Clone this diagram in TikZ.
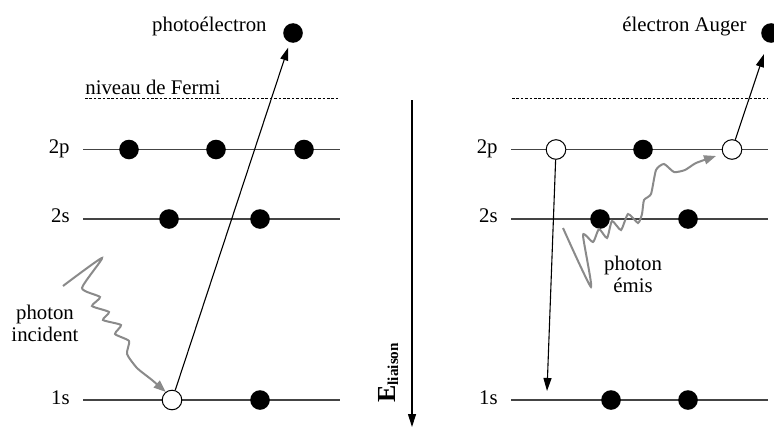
\documentclass[tikz,border=0pt]{standalone}
\usepackage{fontspec}
\setmainfont{Liberation Serif}
\usetikzlibrary{arrows.meta}
\definecolor{augerLine}{HTML}{444444}
\definecolor{augerPhoton}{HTML}{8A8A8A}
\tikzset{
  augerfig/.style={
    x=0.5pt, y=-0.5pt,
    every node/.append style={font=\fontsize{10.4}{11}\selectfont},
    >={Triangle[length=6.5pt, width=4pt]},
  },
  levelline/.style={draw=augerLine, line width=0.55pt},
  fermiline/.style={draw=black, line width=0.5pt, dash pattern=on 1.3pt off 0.9pt},
  electron/.style={circle, fill=black, inner sep=0pt, minimum size=9.8pt},
  hole/.style={electron, draw=black, fill=white, line width=0.5pt},
  % transitions electroniques : fleche noire fine
  jump/.style={draw=black, line width=0.55pt, ->},
  photon/.style={draw=augerPhoton, line width=1pt, ->,
    >={Triangle[length=6pt, width=4.5pt]}},
  levellabel/.style={anchor=base east, inner sep=0pt},
}
\begin{document}
\begin{tikzpicture}[augerfig]
  \useasboundingbox (0,0) rectangle (774,428);

  % photoemission
  \draw[fermiline] (85,98.5) -- (340,98.5);
  \draw[levelline] (83,149.5) -- (340,149.5);
  \draw[levelline] (83,219) -- (340,219);
  \draw[levelline] (83,400) -- (340,400);
  \node[anchor=base west, inner sep=0pt] (fermiL) at (85,94) {niveau de Fermi};
  \node[levellabel] (lab2pL) at (70,153) {2p};
  \node[levellabel] (lab2sL) at (70,222.5) {2s};
  \node[levellabel] (lab1sL) at (70,404) {1s};
  \node[electron] (pL1) at (129,149.5) {};
  \node[electron] (pL2) at (216,149.5) {};
  \node[electron] (pL3) at (304,149.5) {};
  \node[electron] (sL1) at (169,219) {};
  \node[electron] (sL2) at (260,219) {};
  \node[hole] (holeL) at (172,400) {};
  \node[electron] (kL2) at (260,400) {};
  \node[electron] (photoEl) at (293,33) {};
  \node[anchor=base east, inner sep=0pt] (photoElLab) at (267,31) {photoélectron};
  \draw[jump, shorten >=2.5pt] (holeL) -- (photoEl);
  \node[align=center, anchor=north, inner sep=0pt] (incLab) at (45,305) {photon\\incident};
  \draw[photon] plot[smooth, tension=0.35] coordinates {(63,286) (102,258) (82,288)
    (100,297) (92,306) (109,312) (103,320) (121,325) (115,334) (129,341)
    (127,354) (137,368) (152,380) (holeL.128)};

  % axe energie de liaison
  \coordinate (axisTop) at (412,100);
  \coordinate (axisEnd) at (412,427);
  \draw[jump] (axisTop) -- (axisEnd);
  \node[rotate=90, anchor=base west, inner sep=0pt] (axisLab) at (395,403)
    {{\fontsize{13}{14}\selectfont\bfseries E}\raisebox{-1.5pt}{\fontsize{7.6}{8}\selectfont\bfseries liaison}};

  % effet Auger
  \draw[fermiline] (512,98.5) -- (768,98.5);
  \draw[levelline] (511,149.5) -- (768,149.5);
  \draw[levelline] (511,219) -- (768,219);
  \draw[levelline] (511,400) -- (768,400);
  \node[levellabel] (lab2pR) at (498,153) {2p};
  \node[levellabel] (lab2sR) at (498,222.5) {2s};
  \node[levellabel] (lab1sR) at (498,404) {1s};
  \node[hole] (holeR1) at (556,149.5) {};
  \node[electron] (pR2) at (643,149.5) {};
  \node[hole] (holeR2) at (732,149.5) {};
  \node[electron] (sR1) at (600,219) {};
  \node[electron] (sR2) at (688,219) {};
  \node[electron] (kR1) at (611,400) {};
  \node[electron] (kR2) at (688,400) {};
  \node[electron] (augerEl) at (771,33) {};
  \node[anchor=base east, inner sep=0pt] (augerLab) at (747,31) {électron Auger};
  \coordinate (fallEnd) at (547,391);
  \draw[jump] (holeR1) -- (fallEnd);
  \draw[jump, shorten >=6pt] (holeR2) -- (augerEl);
  \coordinate (emisTip) at (716,156);
  \draw[photon] plot[smooth, tension=0.35] coordinates {(563,228) (591,287) (583,235)
    (593,242) (599,229) (607,238) (612,221) (621,230) (628,214) (638,223)
    (642,214) (644,200) (651,194) (656,170) (664,164) (674,172) (685,170)
    (696,163) (emisTip)};
  \node[align=center, anchor=north, inner sep=0pt] (emisLab) at (633,256) {photon\\émis};
\end{tikzpicture}
\end{document}
